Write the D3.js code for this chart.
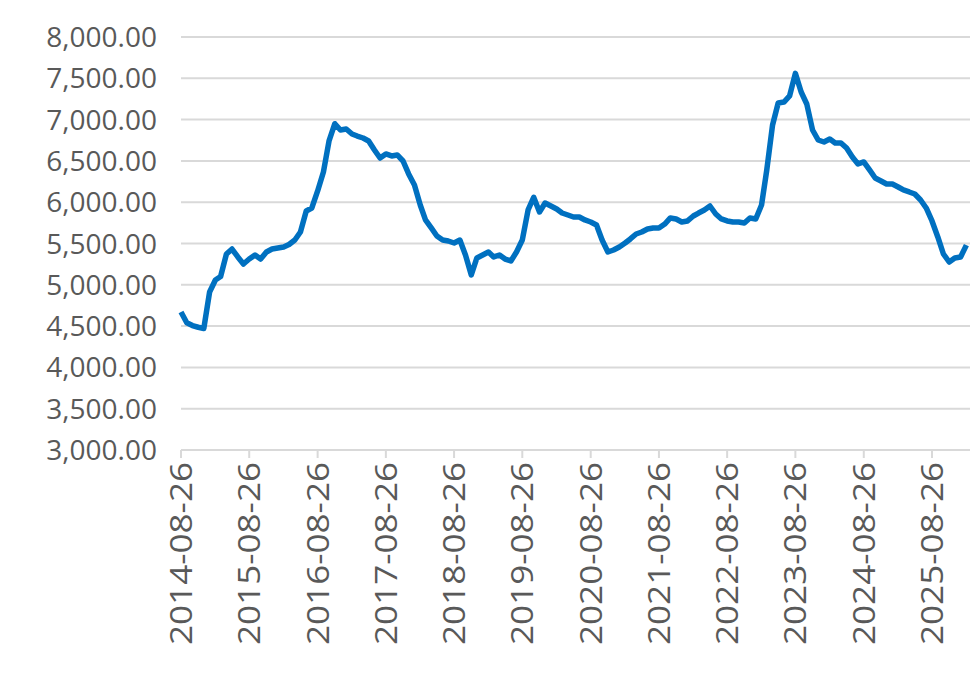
<!DOCTYPE html>
<head>
  <meta charset="utf-8">
  <script src="https://cdn.jsdelivr.net/npm/d3@7"></script>
  <style>
    body { margin: 0; background: #fff; }
    text { font-family: "Open Sans", "Noto Sans", sans-serif; fill: #595959; }
  </style>
</head>
<body>
<script>
  // monthly readings starting 2014-08-26
  var startDate = "2014-08-26";
  var values = [
    4671, 4541, 4507, 4486, 4471, 4913, 5058, 5100, 5373, 5433,
    5337, 5252, 5312, 5361, 5312, 5397, 5433, 5446, 5458, 5488,
    5542, 5639, 5893, 5930, 6136, 6366, 6741, 6950, 6874, 6886,
    6826, 6801, 6777, 6741, 6632, 6535, 6584, 6560, 6572, 6499,
    6342, 6208, 5966, 5785, 5688, 5591, 5542, 5530, 5506, 5542,
    5361, 5120, 5325, 5361, 5397, 5337, 5361, 5312, 5288, 5397,
    5542, 5906, 6060, 5881, 5990, 5954, 5918, 5869, 5845, 5821,
    5821, 5785, 5760, 5724, 5542, 5397, 5421, 5458, 5506, 5555,
    5615, 5639, 5676, 5688, 5688, 5736, 5809, 5797, 5760, 5773,
    5833, 5869, 5906, 5954, 5857, 5797, 5773, 5760, 5760, 5748,
    5809, 5797, 5966, 6390, 6935, 7201, 7213, 7286, 7560, 7334,
    7189, 6874, 6753, 6729, 6765, 6717, 6717, 6656, 6547, 6463,
    6487, 6390, 6293, 6257, 6220, 6220, 6184, 6148, 6124, 6099,
    6027, 5930, 5773, 5579, 5373, 5276, 5325, 5337, 5480
  ];
  var tickLabels = ["2014-08-26","2015-08-26","2016-08-26","2017-08-26","2018-08-26","2019-08-26",
                    "2020-08-26","2021-08-26","2022-08-26","2023-08-26","2024-08-26","2025-08-26"];
  var yTicks = [3000, 3500, 4000, 4500, 5000, 5500, 6000, 6500, 7000, 7500, 8000];

  var parse = d3.timeParse("%Y-%m-%d");
  var t0 = parse(startDate);
  var data = values.map(function(v, i) { return { date: d3.timeMonth.offset(t0, i), value: v }; });

  var svg = d3.select("body").append("svg").attr("width", 980).attr("height", 679);

  var x = d3.scaleTime()
    .domain([parse("2014-08-26"), parse("2025-08-26")])
    .range([181, 932]);
  var xEnd = 970;
  var y = d3.scaleLinear().domain([3000, 8000]).range([450, 37]);

  svg.append("g").selectAll("line").data(yTicks.slice(1)).enter().append("line")
    .attr("x1", 181).attr("x2", xEnd)
    .attr("y1", d => y(d)).attr("y2", d => y(d))
    .style("stroke", "#d9d9d9").style("stroke-width", 2);

  svg.append("g").selectAll("text").data(yTicks).enter().append("text")
    .attr("x", 157).attr("y", d => y(d) + 10)
    .attr("text-anchor", "end")
    .style("font-size", "28px")
    .text(d => d3.format(",.2f")(d));

  svg.append("line").attr("x1", 181).attr("x2", xEnd).attr("y1", 450).attr("y2", 450)
    .style("stroke", "#d9d9d9").style("stroke-width", 2);

  var xt = svg.append("g").selectAll("g").data(tickLabels).enter().append("g")
    .attr("transform", d => "translate(" + x(parse(d)) + ",450)");
  xt.append("line").attr("y1", 0).attr("y2", 8).style("stroke", "#d9d9d9").style("stroke-width", 2);
  xt.append("text")
    .attr("transform", "rotate(-90)")
    .attr("x", -12).attr("y", 11)
    .attr("text-anchor", "end")
    .style("font-size", "31px")
    .attr("textLength", 183)
    .attr("lengthAdjust", "spacingAndGlyphs")
    .text(d => d);

  var line = d3.line().x(d => x(d.date)).y(d => y(d.value)).curve(d3.curveLinear);
  svg.append("path").datum(data)
    .attr("d", line)
    .style("fill", "none").style("stroke", "#0070c0")
    .style("stroke-width", 5.5).style("stroke-linejoin", "round");
</script>
</body>
